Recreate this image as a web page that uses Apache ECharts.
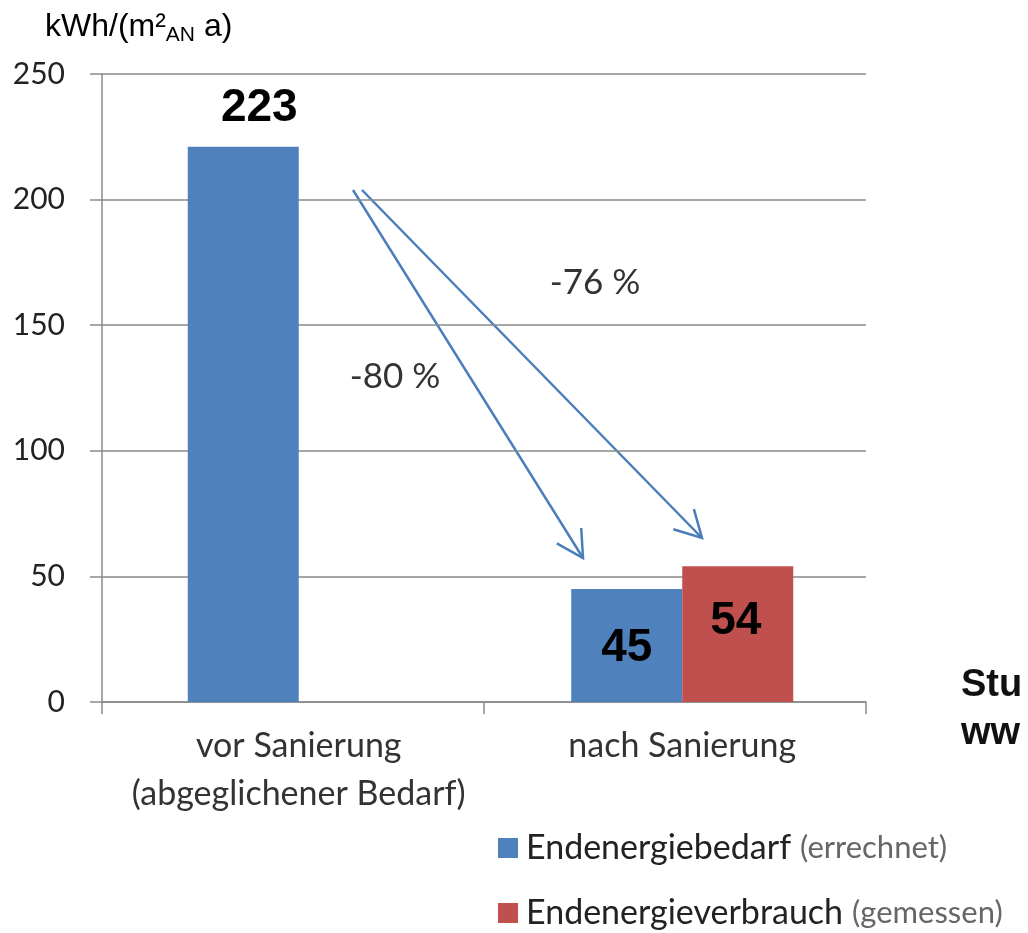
<!DOCTYPE html>
<html>
<head>
<meta charset="utf-8">
<script src="https://cdn.jsdelivr.net/npm/echarts@6/dist/echarts.min.js"></script>
<style>
  html, body { margin: 0; padding: 0; background: #fff; }
  #chart { width: 1028px; height: 933px; }
</style>
</head>
<body>
<div id="chart"></div>
<script>
// Chart data
const categories = ['vor Sanierung\n(abgeglichener Bedarf)', 'nach Sanierung']
const seriesNames = ['Endenergiebedarf (errechnet)', 'Endenergieverbrauch (gemessen)']
const bedarfValues = [221, 45]
const verbrauchValues = [null, 54]
// numbers printed on the bars
const bedarfLabels = ['223', '45']
const verbrauchLabels = ['', '54']
const yMin = 0
const yMax = 250
const yStep = 50
const arrowNotes = ['-80 %', '-76 %']
const unitText = ['kWh/(m²', 'AN', ' a)']
const cutText = ['Stu', 'ww']

const BLUE = '#4f81bd'
const RED = '#c0504d'
const GRID = '#8a8a8a'
const BODY_FONT = "Lato, 'Open Sans', sans-serif"
const NUM_FONT = "'Liberation Sans', Arial, sans-serif"

const bigLabel = { fontFamily: NUM_FONT, fontSize: 46, fontWeight: 'bold', color: '#000', lineHeight: 46 }

// label placement for each bar
const bedarfPlacement = [
  { position: 'top', distance: 16, offset: [16, 0] },
  { position: 'inside', offset: [0, 3] }
]
const verbrauchPlacement = [
  { show: false },
  { position: 'insideTop', distance: 32, offset: [-2, 0] }
]

function arrow(x1, y1, x2, y2) {
  const ang = Math.atan2(y2 - y1, x2 - x1)
  const len = 30, spread = 0.5
  const a1 = [x2 - len * Math.cos(ang - spread), y2 - len * Math.sin(ang - spread)]
  const a2 = [x2 - len * Math.cos(ang + spread), y2 - len * Math.sin(ang + spread)]
  const style = { stroke: '#4a7ebb', lineWidth: 2.5, fill: null }
  return [
    { type: 'polyline', shape: { points: [[x1, y1], [x2, y2]] }, style },
    { type: 'polyline', shape: { points: [a1, [x2, y2], a2] }, style }
  ]
}

const axisLook = { lineStyle: { color: GRID, width: 1.5 } }

const chart = echarts.init(document.getElementById('chart'))

chart.setOption({
  animation: false,
  // grid 0 carries the frame, grid 1 (slightly shifted) carries the bars
  grid: [
    { left: 102, right: 162, top: 74, bottom: 231 },
    { left: 107, right: 154, top: 74, bottom: 231 }
  ],
  legend: {
    orient: 'vertical',
    left: 493,
    top: 826,
    height: 104,
    itemWidth: 20,
    itemHeight: 20,
    itemGap: 31,
    icon: 'rect',
    selectedMode: false,
    data: seriesNames,
    formatter: name => {
      const i = name.indexOf(' (')
      return '{m|' + name.slice(0, i) + '}{g|' + name.slice(i + 1) + '}'
    },
    textStyle: {
      rich: {
        m: { fontFamily: BODY_FONT, fontSize: 34, color: '#222', lineHeight: 34, padding: [0, 0, 0, 3] },
        g: { fontFamily: BODY_FONT, fontSize: 31, color: '#666', lineHeight: 34, padding: [0, 0, 0, 9] }
      }
    }
  },
  xAxis: [
    {
      type: 'category',
      gridIndex: 0,
      data: categories,
      axisLine: axisLook,
      axisTick: { show: true, length: 12, ...axisLook },
      axisLabel: { show: false }
    },
    {
      type: 'category',
      gridIndex: 1,
      data: categories,
      axisLine: { show: false },
      axisTick: { show: false },
      axisLabel: { interval: 0, fontFamily: BODY_FONT, fontSize: 34, color: '#333', lineHeight: 48, margin: 20 }
    }
  ],
  yAxis: [
    {
      type: 'value',
      gridIndex: 0,
      min: yMin,
      max: yMax,
      interval: yStep,
      axisLine: { show: true, ...axisLook },
      axisTick: { show: true, length: 12, ...axisLook },
      splitLine: axisLook,
      axisLabel: { fontFamily: BODY_FONT, fontSize: 30, color: '#222', margin: 37 }
    },
    {
      type: 'value',
      gridIndex: 1,
      min: yMin,
      max: yMax,
      interval: yStep,
      show: false,
      splitLine: { show: false }
    }
  ],
  series: [
    {
      name: seriesNames[0],
      type: 'bar',
      xAxisIndex: 1,
      yAxisIndex: 1,
      barWidth: 111,
      barGap: '0%',
      itemStyle: { color: BLUE },
      data: bedarfValues.map((v, i) => ({
        value: v,
        label: { show: true, ...bigLabel, ...bedarfPlacement[i], formatter: () => bedarfLabels[i] }
      }))
    },
    {
      name: seriesNames[1],
      type: 'bar',
      xAxisIndex: 1,
      yAxisIndex: 1,
      barWidth: 111,
      barGap: '0%',
      itemStyle: { color: RED },
      data: verbrauchValues.map((v, i) => ({
        value: v,
        label: { show: true, ...bigLabel, ...verbrauchPlacement[i], formatter: () => verbrauchLabels[i] }
      }))
    }
  ],
  graphic: [
    {
      type: 'text',
      left: 45,
      top: 11,
      style: {
        text: '{a|' + unitText[0] + '}{s|' + unitText[1] + '}{a|' + unitText[2] + '}',
        rich: {
          a: { fontFamily: NUM_FONT, fontSize: 32, color: '#111', lineHeight: 38 },
          s: { fontFamily: NUM_FONT, fontSize: 21, color: '#111', lineHeight: 14, verticalAlign: 'bottom' }
        }
      }
    },
    ...arrow(353, 190, 583, 558),
    ...arrow(362, 190, 702, 538),
    {
      type: 'text', x: 395, y: 377,
      style: { text: arrowNotes[0], fontFamily: BODY_FONT, fontSize: 35, fill: '#333', align: 'center', verticalAlign: 'middle' }
    },
    {
      type: 'text', x: 595, y: 283,
      style: { text: arrowNotes[1], fontFamily: BODY_FONT, fontSize: 35, fill: '#333', align: 'center', verticalAlign: 'middle' }
    },
    {
      type: 'text', x: 961, y: 686,
      style: { text: cutText[0], fontFamily: NUM_FONT, fontSize: 38, fontWeight: 'bold', fill: '#111', verticalAlign: 'middle' }
    },
    {
      type: 'text', x: 961, y: 734,
      style: { text: cutText[1], fontFamily: NUM_FONT, fontSize: 38, fontWeight: 'bold', fill: '#111', verticalAlign: 'middle' }
    }
  ]
})
</script>
</body>
</html>
